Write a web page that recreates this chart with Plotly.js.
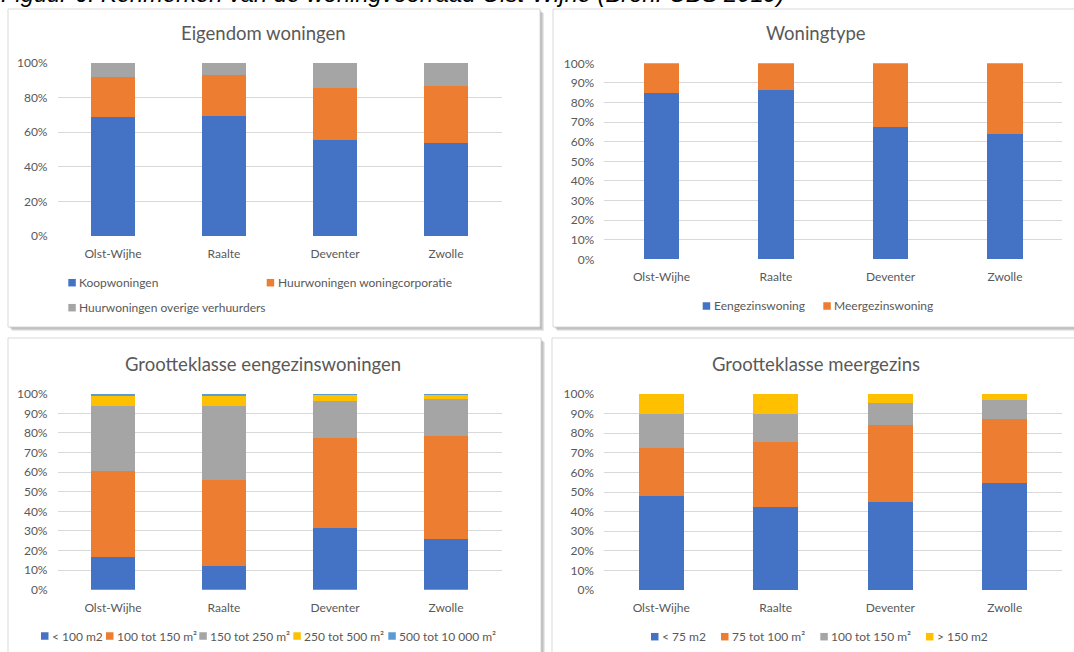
<!DOCTYPE html>
<html>
<head>
<meta charset="utf-8">
<script src="https://cdn.plot.ly/plotly-3.0.1.min.js"></script>
<style>
  html, body { margin: 0; padding: 0; background: #fff; }
  #wrap { position: relative; width: 1074px; height: 652px; overflow: hidden; }
  #chart { position: absolute; left: 0; top: 0; width: 1074px; height: 652px; }
  #caption { position: absolute; left: 1px; top: -12px; white-space: nowrap;
             font-family: "Liberation Sans", Arial, sans-serif; font-style: italic;
             color: #000; line-height: 1; z-index: 5; }
</style>
</head>
<body>
<div id="wrap">
  <div id="chart"></div>
  <div id="caption">Figuur 6: Kenmerken van de woningvoorraad Olst-Wijhe (Bron: CBS 2019)</div>
</div>
<script>
// ---------------- DATA ----------------
const cities = ['Olst-Wijhe', 'Raalte', 'Deventer', 'Zwolle'];

// Eigendom woningen
const eigendomTitle = 'Eigendom woningen';
const eigendomNames = ['Koopwoningen', 'Huurwoningen woningcorporatie', 'Huurwoningen overige verhuurders'];
const koopwoningen = [0.69, 0.695, 0.555, 0.535];
const huurCorporatie = [0.23, 0.235, 0.300, 0.330];
const huurOverig = [0.08, 0.070, 0.145, 0.135];

// Woningtype
const typeTitle = 'Woningtype';
const typeNames = ['Eengezinswoning', 'Meergezinswoning'];
const eengezins = [0.850, 0.865, 0.673, 0.641];
const meergezins = [0.150, 0.135, 0.327, 0.359];

// Grootteklasse eengezinswoningen
const egTitle = 'Grootteklasse eengezinswoningen';
const egNames = ['< 100 m2', '100 tot 150 m²', '150 tot 250 m²', '250 tot 500 m²', '500 tot 10 000 m²'];
const egLt100 = [0.165, 0.120, 0.315, 0.257];
const eg100to150 = [0.440, 0.438, 0.457, 0.527];
const eg150to250 = [0.332, 0.379, 0.192, 0.189];
const eg250to500 = [0.054, 0.054, 0.034, 0.025];
const eg500to10000 = [0.009, 0.009, 0.002, 0.002];

// Grootteklasse meergezins
const mgTitle = 'Grootteklasse meergezins';
const mgNames = ['< 75 m2', '75 tot 100 m²', '100 tot 150 m²', '> 150 m2'];
const mgLt75 = [0.478, 0.423, 0.449, 0.546];
const mg75to100 = [0.245, 0.334, 0.395, 0.325];
const mg100to150 = [0.173, 0.143, 0.110, 0.097];
const mgGt150 = [0.104, 0.100, 0.046, 0.032];

// ---------------- STYLE / LAYOUT ----------------
const W = 1074, H = 652;
const X = px => px / W;
const Y = py => 1 - py / H;
const FONT = 'Lato, "Open Sans", sans-serif';
const TXT = '#595959';
const GRID = '#d9d9d9';
const C = ['#4472C4', '#ED7D31', '#A5A5A5', '#FFC000', '#5B9BD5'];

const panels = [
  { series: [koopwoningen, huurCorporatie, huurOverig], names: eigendomNames, title: eigendomTitle,
    xd: [57.5, 501.5], yd: [236, 63], dtick: 0.2, bw: 0.40, tx: 263, ty: 33,
    legend: [[68.3, 282.7], [266.7, 282.7], [68.3, 307.7]],
    box: [8, 9, 540, 327] },
  { series: [eengezins, meergezins], names: typeNames, title: typeTitle,
    xd: [604.25, 1062.25], yd: [259.3, 63.3], dtick: 0.1, bw: 0.31, tx: 815.7, ty: 33,
    legend: [[702.7, 306], [823.3, 306]],
    box: [553, 9, 1082, 327] },
  { series: [egLt100, eg100to150, eg150to250, eg250to500, eg500to10000], names: egNames, title: egTitle,
    xd: [57.5, 501.5], yd: [589.7, 393.7], dtick: 0.1, bw: 0.40, tx: 262.5, ty: 363.8,
    legend: [[41, 636], [106, 636], [199.3, 636], [293.3, 636], [388.3, 636]],
    box: [8, 338, 541, 662] },
  { series: [mgLt75, mg75to100, mg100to150, mgGt150], names: mgNames, title: mgTitle,
    xd: [604, 1062], yd: [590, 394], dtick: 0.1, bw: 0.39, tx: 815.8, ty: 363.8,
    legend: [[651, 636.7], [721, 636.7], [820.3, 636.7], [926, 636.7]],
    box: [552, 338, 1082, 662] }
];

const traces = [];
const layout = {
  width: W, height: H, autosize: false,
  margin: { l: 0, r: 0, t: 0, b: 0, pad: 0 },
  paper_bgcolor: '#ffffff', plot_bgcolor: 'rgba(0,0,0,0)',
  barmode: 'stack', showlegend: false,
  font: { family: FONT, size: 12, color: TXT },
  shapes: [], annotations: []
};

panels.forEach((p, i) => {
  const n = i === 0 ? '' : String(i + 1);
  p.series.forEach((vals, k) => {
    traces.push({
      type: 'bar', x: cities, y: vals, name: p.names[k],
      xaxis: 'x' + n, yaxis: 'y' + n, width: p.bw,
      marker: { color: C[k], line: { width: 0 } },
      hovertemplate: '%{x}: %{y:.1%}<extra>' + p.names[k] + '</extra>'
    });
  });
  layout['xaxis' + n] = {
    domain: [X(p.xd[0]), X(p.xd[1])], anchor: 'y' + n, type: 'category',
    showgrid: false, zeroline: false, showline: false, ticks: '',
    tickfont: { family: FONT, size: 12, color: TXT }, ticklabelstandoff: 9, fixedrange: true
  };
  layout['yaxis' + n] = {
    domain: [Y(p.yd[0]), Y(p.yd[1])], anchor: 'x' + n, range: [0, 1],
    dtick: p.dtick, tick0: 0, tickformat: '.0%',
    showgrid: true, gridcolor: GRID, gridwidth: 1, zeroline: false, showline: false, ticks: '',
    tickfont: { family: FONT, size: 12, color: TXT }, ticklabelstandoff: 9, fixedrange: true
  };

  // panel frame with soft shadow
  const b = p.box;
  for (let s = 1; s <= 4; s++) {
    layout.shapes.push({ type: 'rect', xref: 'paper', yref: 'paper', layer: 'below',
      x0: X(b[0] + s), x1: X(b[2] + s), y0: Y(b[3] + s), y1: Y(b[1] + s),
      fillcolor: 'rgba(0,0,0,0.09)', line: { width: 0 } });
  }
  layout.shapes.push({ type: 'rect', xref: 'paper', yref: 'paper', layer: 'below',
    x0: X(b[0]), x1: X(b[2]), y0: Y(b[3]), y1: Y(b[1]),
    fillcolor: '#ffffff', line: { color: '#d9d9d9', width: 1 } });

  // title
  layout.annotations.push({ xref: 'paper', yref: 'paper', x: X(p.tx), y: Y(p.ty),
    xanchor: 'center', yanchor: 'middle', showarrow: false, text: p.title,
    font: { family: FONT, size: 18.5, color: TXT } });

  // legend entries
  p.legend.forEach((pos, k) => {
    const sz = 7.5;
    layout.shapes.push({ type: 'rect', xref: 'paper', yref: 'paper', layer: 'above',
      x0: X(pos[0]), x1: X(pos[0] + sz), y0: Y(pos[1] + sz / 2), y1: Y(pos[1] - sz / 2),
      fillcolor: C[k], line: { width: 0 } });
    layout.annotations.push({ xref: 'paper', yref: 'paper', x: X(pos[0] + sz + 1.5), y: Y(pos[1]),
      xanchor: 'left', yanchor: 'middle', showarrow: false, text: p.names[k],
      font: { family: FONT, size: 12, color: TXT } });
  });
});

Plotly.newPlot('chart', traces, layout, { displayModeBar: false, responsive: false });

// fit caption width (figure caption above the charts, cropped at the top as in the source)
(function () {
  const cap = document.getElementById('caption');
  const cv = document.createElement('canvas').getContext('2d');
  cv.font = 'italic 100px "Liberation Sans", Arial, sans-serif';
  const w = cv.measureText(cap.textContent).width;
  const fs = 100 * 784 / w;
  cap.style.fontSize = fs.toFixed(2) + 'px';
  cap.style.top = (4.5 - fs * 0.9).toFixed(2) + 'px';
})();
</script>
</body>
</html>
